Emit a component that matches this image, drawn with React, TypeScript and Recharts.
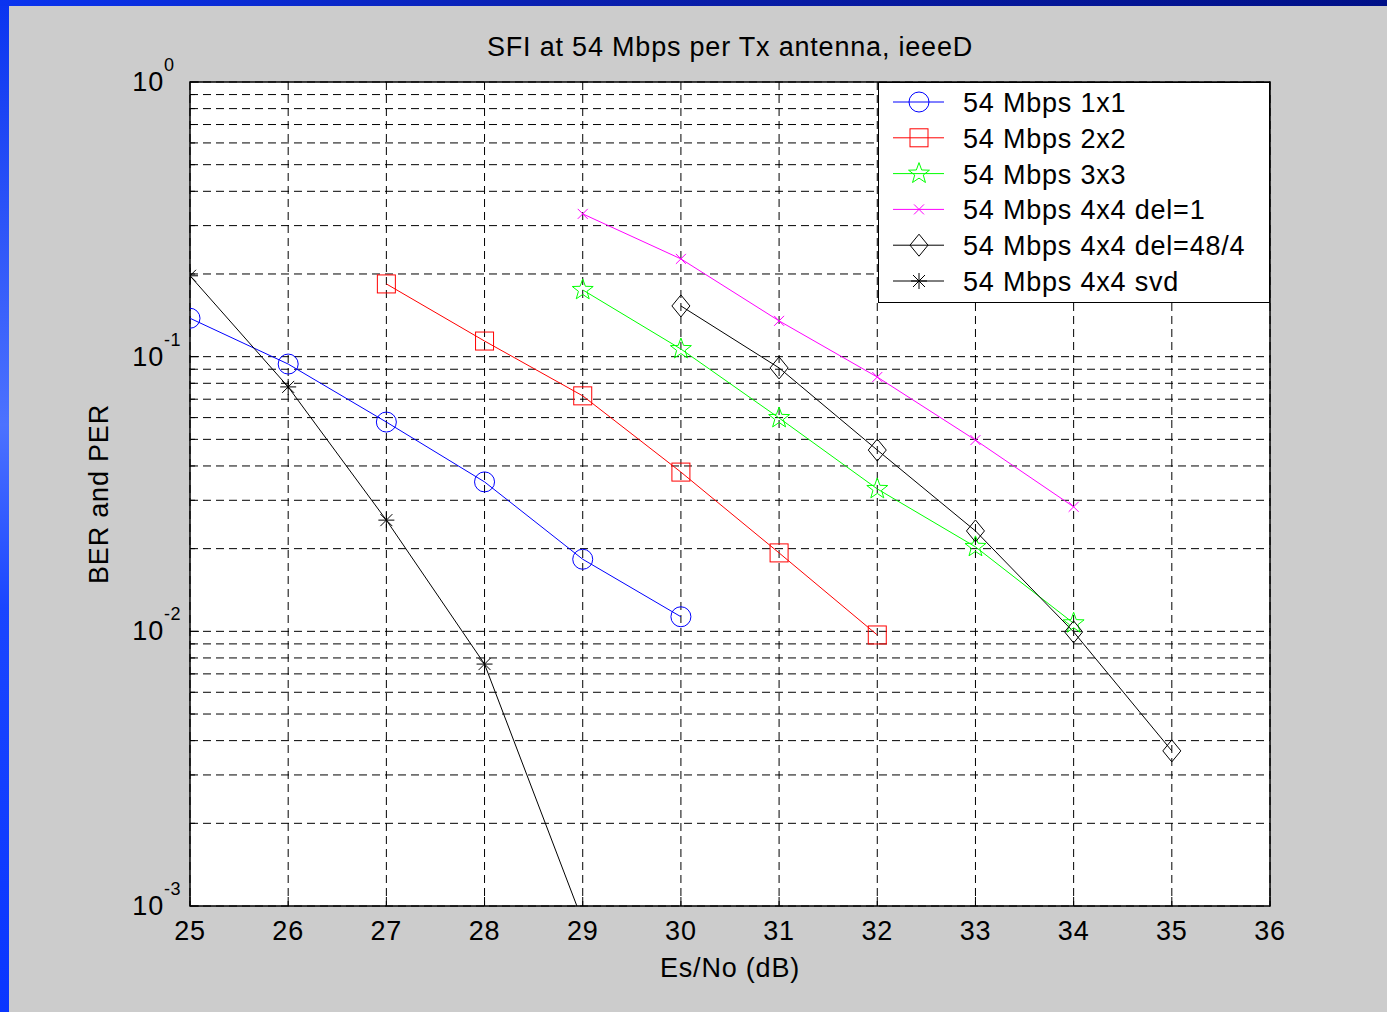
import React from 'react';
import { LineChart, Line, XAxis, YAxis, CartesianGrid, Legend, ReferenceArea } from 'recharts';

// Es/No (dB) grid
const xs = [25, 26, 27, 28, 29, 30, 31, 32, 33, 34, 35, 36];

// BER / PER (null = no point)
const mbps1x1 = [0.138, 0.094, 0.0578, 0.035, 0.0183, 0.0113, null, null, null, null, null, null];
const mbps2x2 = [null, null, 0.184, 0.114, 0.072, 0.038, 0.0193, 0.0097, null, null, null, null];
const mbps3x3 = [null, null, null, null, 0.175, 0.1066, 0.0598, 0.033, 0.0203, 0.0107, null, null];
const mbps4x4del1 = [null, null, null, null, 0.331, 0.227, 0.135, 0.0843, 0.0497, 0.0284, null, null];
const mbps4x4del48 = [null, null, null, null, null, 0.153, 0.091, 0.0457, 0.0232, 0.00995, 0.00367, null];
const mbps4x4svd = [0.197, 0.0776, 0.0254, 0.0076, 0.00088, null, null, null, null, null, null, null];

const xTicks = [25, 26, 27, 28, 29, 30, 31, 32, 33, 34, 35, 36];
const yTicks = [
  0.001, 0.002, 0.003, 0.004, 0.005, 0.006, 0.007, 0.008, 0.009,
  0.01, 0.02, 0.03, 0.04, 0.05, 0.06, 0.07, 0.08, 0.09,
  0.1, 0.2, 0.3, 0.4, 0.5, 0.6, 0.7, 0.8, 0.9, 1,
];

const series = [
  { key: 'a', name: '54 Mbps 1x1', color: '#0000ff', marker: 'circle', values: mbps1x1 },
  { key: 'b', name: '54 Mbps 2x2', color: '#ff0000', marker: 'square', values: mbps2x2 },
  { key: 'c', name: '54 Mbps 3x3', color: '#00ff00', marker: 'star', values: mbps3x3 },
  { key: 'd', name: '54 Mbps 4x4 del=1', color: '#ff00ff', marker: 'x', values: mbps4x4del1 },
  { key: 'e', name: '54 Mbps 4x4 del=48/4', color: '#000000', marker: 'diamond', values: mbps4x4del48 },
  { key: 'f', name: '54 Mbps 4x4 svd', color: '#000000', marker: 'asterisk', values: mbps4x4svd },
];

const data = xs.map((x, i) => {
  const row: any = { x };
  series.forEach(s => { row[s.key] = s.values[i]; });
  return row;
});

const FONT = '"Liberation Sans", Arial, sans-serif';
const textStyle = { fontFamily: FONT, fontSize: 27, letterSpacing: 0.8 };

function starPoints(cx: number, cy: number, ro: number, ri: number) {
  const pts: string[] = [];
  for (let k = 0; k < 10; k++) {
    const r = k % 2 === 0 ? ro : ri;
    const a = -Math.PI / 2 + (k * Math.PI) / 5;
    pts.push(`${cx + r * Math.cos(a)},${cy + r * Math.sin(a)}`);
  }
  return pts.join(' ');
}

function Marker({ type, cx, cy, color }: { type: string; cx: number; cy: number; color: string }) {
  const common = { fill: 'none', stroke: color, strokeWidth: 1 };
  switch (type) {
    case 'circle':
      return <circle cx={cx} cy={cy} r={10} {...common} />;
    case 'square':
      return <rect x={cx - 9} y={cy - 9} width={18} height={18} {...common} />;
    case 'star':
      return <polygon points={starPoints(cx, cy, 11, 4.5)} {...common} />;
    case 'x':
      return (
        <g {...common}>
          <line x1={cx - 5} y1={cy - 5} x2={cx + 5} y2={cy + 5} />
          <line x1={cx - 5} y1={cy + 5} x2={cx + 5} y2={cy - 5} />
        </g>
      );
    case 'diamond':
      return <polygon points={`${cx},${cy - 11} ${cx + 9},${cy} ${cx},${cy + 11} ${cx - 9},${cy}`} {...common} />;
    case 'asterisk':
      return (
        <g {...common}>
          <line x1={cx - 8} y1={cy} x2={cx + 8} y2={cy} />
          <line x1={cx} y1={cy - 8} x2={cx} y2={cy + 8} />
          <line x1={cx - 6} y1={cy - 6} x2={cx + 6} y2={cy + 6} />
          <line x1={cx - 6} y1={cy + 6} x2={cx + 6} y2={cy - 6} />
        </g>
      );
    default:
      return null;
  }
}

const XTick = (props: any) => {
  const { x, y, payload } = props;
  return (
    <g>
      <line x1={x} y1={y} x2={x} y2={y - 9} stroke="#000" />
      <text x={x} y={y + 34} textAnchor="middle" fill="#000" style={textStyle}>
        {payload.value}
      </text>
    </g>
  );
};

const YTick = (props: any) => {
  const { x, y, payload } = props;
  const lg = Math.log10(payload.value);
  const major = Math.abs(lg - Math.round(lg)) < 1e-9;
  return (
    <g>
      <line x1={x} y1={y} x2={x + (major ? 9 : 5)} y2={y} stroke="#000" />
      {major && (
        <text x={x - 26} y={y + 9} textAnchor="end" fill="#000" style={textStyle}>
          10
        </text>
      )}
      {major && (
        <text x={x - 26} y={y - 11} textAnchor="start" fill="#000" style={{ ...textStyle, fontSize: 18, letterSpacing: 0.5 }}>
          {Math.round(lg)}
        </text>
      )}
    </g>
  );
};

const LegendBox = () => (
  <svg width={392} height={221} style={{ display: 'block' }}>
    <rect x={0.5} y={0.5} width={391} height={220} fill="#fff" stroke="#000" />
    {series.map((s, i) => {
      const cy = 20 + i * 35.8;
      return (
        <g key={s.key}>
          <line x1={15} y1={cy} x2={66} y2={cy} stroke={s.color} />
          <Marker type={s.marker} cx={41} cy={cy} color={s.color} />
          <text x={85} y={cy + 10} fill="#000" style={textStyle}>
            {s.name}
          </text>
        </g>
      );
    })}
  </svg>
);

export default function App() {
  return (
    <div style={{ position: 'absolute', left: 0, top: 0, width: 1387, height: 1012, background: '#cccccc', overflow: 'hidden' }}>
      <div style={{ position: 'absolute', left: 0, top: 0, width: 9, height: 1012, background: 'linear-gradient(to bottom, #0a34f0, #4c72ff 42%, #1a46ff 60%, #0a36ff)' }} />
      <div style={{ position: 'absolute', left: 0, top: 0, width: 1387, height: 6, background: 'linear-gradient(to right, #0a34f0, #0a20b0 40%, #001088)' }} />
      <div style={{ position: 'absolute', left: 0, top: 32, width: 1460, textAlign: 'center', ...textStyle, color: '#000' }}>
        SFI at 54 Mbps per Tx antenna, ieeeD
      </div>
      <div style={{ position: 'absolute', left: 0, top: 0 }}>
        <LineChart width={1387} height={1012} data={data} margin={{ top: 82, right: 117, left: 130, bottom: 46 }}>
          <CartesianGrid stroke="#000" strokeDasharray="8 5" fill="#fff" fillOpacity={1} />
          <ReferenceArea x1={25} x2={36} y1={0.001} y2={1} fill="none" stroke="#000" strokeWidth={1.5} />
          <XAxis
            dataKey="x"
            type="number"
            domain={[25, 36]}
            ticks={xTicks}
            allowDataOverflow
            height={60}
            tickSize={0}
            tickMargin={0}
            tickLine={false}
            axisLine={false}
            tick={<XTick />}
            interval={0}
            label={(p: any) => (
              <text x={730} y={977} textAnchor="middle" fill="#000" style={textStyle}>
                Es/No (dB)
              </text>
            )}
          />
          <YAxis
            scale="log"
            type="number"
            domain={[0.001, 1]}
            ticks={yTicks}
            allowDataOverflow
            width={60}
            tickSize={0}
            tickMargin={0}
            tickLine={false}
            axisLine={false}
            tick={<YTick />}
            interval={0}
            label={(p: any) => (
              <text x={108} y={494} textAnchor="middle" fill="#000" transform="rotate(-90 108 494)" style={textStyle}>
                BER and PER
              </text>
            )}
          />
          <Legend
            layout="vertical"
            align="center"
            verticalAlign="middle"
            content={() => <LegendBox />}
            wrapperStyle={{ left: 878, top: 82, width: 392, height: 221 }}
          />
          {series.map(s => (
            <Line
              key={s.key}
              dataKey={s.key}
              name={s.name}
              stroke={s.color}
              strokeWidth={1}
              type="linear"
              isAnimationActive={false}
              activeDot={false}
              dot={(p: any) =>
                p.cx == null || p.cy == null || p.value == null ? (
                  <g key={`${s.key}-${p.index}`} />
                ) : (
                  <Marker key={`${s.key}-${p.index}`} type={s.marker} cx={p.cx} cy={p.cy} color={s.color} />
                )
              }
            />
          ))}
        </LineChart>
      </div>
    </div>
  );
}
